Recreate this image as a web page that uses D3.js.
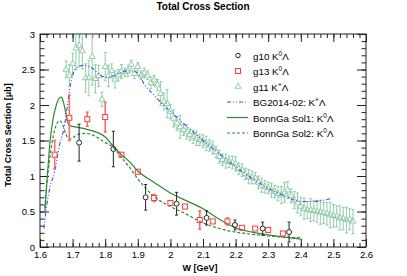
<!DOCTYPE html>
<html>
<head>
<meta charset="utf-8">
<script src="https://cdn.jsdelivr.net/npm/d3@7"></script>
<style>
body { margin: 0; background: #fff; }
svg { display: block; font-family: "Liberation Sans", Arial, sans-serif; }
</style>
</head>
<body>
<svg id="chart" width="407" height="276"></svg>
<script>
// g10 K0 Lambda (black circles)
var g10W = [1.72, 1.825, 1.924, 2.019, 2.111, 2.198, 2.283, 2.364];
var g10Val = [1.47, 1.38, 0.70, 0.61, 0.41, 0.31, 0.26, 0.21];
var g10Err = [0.26, 0.25, 0.18, 0.16, 0.10, 0.07, 0.09, 0.14];

// g13 K0 Lambda (red squares)
var g13W = [1.645, 1.69, 1.745, 1.80, 1.85, 1.90, 1.95, 2.00, 2.045, 2.09, 2.13, 2.175, 2.22, 2.26, 2.30, 2.345];
var g13Val = [1.30, 1.82, 1.80, 1.83, 1.30, 1.06, 0.69, 0.62, 0.57, 0.38, 0.36, 0.36, 0.27, 0.26, 0.24, 0.19];
var g13Err = [0.20, 0.32, 0.10, 0.21, 0.04, 0.04, 0.05, 0.03, 0.03, 0.13, 0.03, 0.05, 0.04, 0.04, 0.04, 0.03];

// g11 K+ Lambda (green triangles)
var g11W = [1.68, 1.69, 1.70, 1.71, 1.72, 1.73, 1.74, 1.75, 1.76, 1.77, 1.78, 1.79, 1.80, 1.81, 1.82, 1.83, 1.84, 1.85, 1.86, 1.87,
    1.88, 1.89, 1.90, 1.91, 1.92, 1.93, 1.94, 1.95, 1.96, 1.97, 1.98, 1.99, 2.00, 2.01, 2.02, 2.03, 2.04, 2.05, 2.06, 2.07,
    2.08, 2.09, 2.10, 2.11, 2.12, 2.13, 2.14, 2.15, 2.16, 2.17, 2.18, 2.19, 2.20, 2.21, 2.22, 2.23, 2.24, 2.25, 2.26, 2.27,
    2.28, 2.29, 2.30, 2.31, 2.32, 2.33, 2.34, 2.35, 2.36, 2.37, 2.38, 2.39, 2.40, 2.41, 2.42, 2.43, 2.44, 2.45, 2.46, 2.47,
    2.48, 2.49, 2.50, 2.51, 2.52, 2.53, 2.54, 2.55, 2.56];
var g11Val = [2.50, 2.42, 2.58, 2.80, 2.84, 2.76, 2.38, 2.38, 2.68, 2.37, 2.41, 2.08, 2.54, 2.41, 2.48, 2.36, 2.42, 2.47, 2.46, 2.48,
    2.57, 2.44, 2.54, 2.42, 2.45, 2.42, 2.31, 2.35, 2.28, 2.16, 2.05, 2.02, 1.91, 1.81, 1.74, 1.69, 1.65, 1.62, 1.58, 1.55,
    1.53, 1.51, 1.49, 1.46, 1.43, 1.40, 1.34, 1.27, 1.23, 1.21, 1.20, 1.19, 1.17, 1.10, 1.08, 1.03, 0.99, 0.98, 0.97, 0.91,
    0.87, 0.85, 0.83, 0.80, 0.78, 0.75, 0.73, 0.77, 0.80, 0.72, 0.66, 0.62, 0.57, 0.54, 0.52, 0.52, 0.51, 0.50, 0.49, 0.48,
    0.47, 0.45, 0.44, 0.43, 0.41, 0.40, 0.38, 0.39, 0.36];
var g11Err = [0.12, 0.15, 0.15, 0.30, 0.30, 0.25, 0.20, 0.25, 0.40, 0.20, 0.15, 0.10, 0.20, 0.15, 0.10, 0.12, 0.08, 0.10, 0.06, 0.08,
    0.06, 0.07, 0.06, 0.06, 0.07, 0.06, 0.08, 0.07, 0.08, 0.17, 0.12, 0.20, 0.10, 0.12, 0.10, 0.16, 0.08, 0.10, 0.08, 0.09,
    0.10, 0.08, 0.09, 0.10, 0.08, 0.09, 0.08, 0.09, 0.08, 0.10, 0.08, 0.09, 0.10, 0.08, 0.09, 0.08, 0.10, 0.09, 0.08, 0.09,
    0.10, 0.09, 0.08, 0.10, 0.09, 0.10, 0.12, 0.14, 0.12, 0.10, 0.12, 0.14, 0.13, 0.15, 0.12, 0.16, 0.14, 0.15, 0.17, 0.15,
    0.16, 0.18, 0.16, 0.15, 0.17, 0.16, 0.18, 0.15, 0.17];

// BG2014-02 K+ Lambda (blue dash-dot)
var bgW = [1.612, 1.618, 1.63, 1.645, 1.66, 1.67, 1.68, 1.69, 1.70, 1.715, 1.735, 1.76, 1.785, 1.805, 1.83, 1.865, 1.885, 1.90,
    1.92, 1.95, 1.98, 2.01, 2.04, 2.07, 2.10, 2.13, 2.16, 2.20, 2.23, 2.26, 2.29, 2.32, 2.35, 2.38, 2.41, 2.44, 2.46, 2.49];
var bgVal = [0.26, 0.50, 0.83, 1.06, 1.44, 1.60, 1.85, 2.20, 2.42, 2.53, 2.56, 2.52, 2.42, 2.39, 2.42, 2.48, 2.48, 2.45,
    2.29, 2.14, 1.99, 1.87, 1.74, 1.62, 1.50, 1.39, 1.28, 1.13, 1.03, 0.94, 0.85, 0.78, 0.72, 0.66, 0.64, 0.64, 0.65, 0.68];

// BonnGa Sol1 K0 Lambda (solid green)
var sol1W = [1.615, 1.62, 1.625, 1.63, 1.64, 1.65, 1.66, 1.665, 1.67, 1.675, 1.68, 1.685, 1.69, 1.70, 1.75, 1.80, 1.825, 1.85,
    1.875, 1.90, 1.95, 2.00, 2.05, 2.10, 2.15, 2.20, 2.25, 2.30, 2.35, 2.40];
var sol1Val = [0.50, 0.85, 1.15, 1.45, 1.80, 2.00, 2.10, 2.11, 2.07, 1.98, 1.86, 1.76, 1.71, 1.70, 1.65, 1.55, 1.42, 1.30,
    1.20, 1.07, 0.91, 0.76, 0.65, 0.54, 0.39, 0.27, 0.21, 0.17, 0.14, 0.11];

// BonnGa Sol2 K0 Lambda (dashed green)
var sol2W = [1.615, 1.62, 1.63, 1.64, 1.65, 1.66, 1.67, 1.68, 1.69, 1.70, 1.72, 1.74, 1.76, 1.78, 1.80, 1.825, 1.85, 1.875,
    1.90, 1.95, 2.00, 2.05, 2.10, 2.15, 2.20, 2.25, 2.30, 2.35, 2.40];
var sol2Val = [0.55, 0.85, 1.25, 1.55, 1.72, 1.78, 1.72, 1.58, 1.52, 1.54, 1.59, 1.60, 1.58, 1.53, 1.47, 1.40, 1.26, 1.12,
    0.96, 0.71, 0.57, 0.46, 0.34, 0.26, 0.21, 0.18, 0.155, 0.14, 0.13];

var xTicks = [1.6, 1.7, 1.8, 1.9, 2.0, 2.1, 2.2, 2.3, 2.4, 2.5, 2.6];
var xLabels = ["1.6", "1.7", "1.8", "1.9", "2", "2.1", "2.2", "2.3", "2.4", "2.5", "2.6"];
var yTicks = [0, 0.5, 1, 1.5, 2, 2.5, 3];
var yLabels = ["0", "0.5", "1", "1.5", "2", "2.5", "3"];

var svg = d3.select("#chart"),
    MARGINS = { top: 34, right: 41, bottom: 29, left: 40 },
    WIDTH = 407,
    HEIGHT = 276,
    x = d3.scaleLinear().domain([1.6, 2.6]).range([MARGINS.left, WIDTH - MARGINS.right]),
    y = d3.scaleLinear().domain([0, 3]).range([HEIGHT - MARGINS.bottom, MARGINS.top]);

var xMinor = d3.range(0, 51).map(function (i) { return 1.6 + i * 0.02; });
var yMinor = d3.range(0, 31).map(function (i) { return i * 0.1; });

svg.append("defs").append("clipPath").attr("id", "plot")
    .append("rect")
    .attr("x", x(1.6)).attr("y", y(3))
    .attr("width", x(2.6) - x(1.6)).attr("height", y(0) - y(3));

// title and axis titles
svg.append("text")
    .attr("x", 203).attr("y", 10)
    .attr("text-anchor", "middle")
    .attr("font-weight", "bold").attr("font-size", 10)
    .text("Total Cross Section");

svg.append("text")
    .attr("transform", "translate(11,135) rotate(-90)")
    .attr("text-anchor", "middle")
    .attr("font-weight", "bold").attr("font-size", 9)
    .text("Total Cross Section [\u03bcb]");

svg.append("text")
    .attr("x", 200).attr("y", 271)
    .attr("text-anchor", "middle")
    .attr("font-weight", "bold").attr("font-size", 9)
    .text("W [GeV]");

// axes, ticks pointing inward on all four sides
function styleAxis(g) {
    g.select(".domain").remove();
    g.selectAll("line").attr("stroke", "#222");
    g.selectAll("text").attr("font-size", 9.5).attr("fill", "#000")
        .attr("font-family", "'Liberation Sans', Arial, sans-serif");
}

svg.append("g")
    .attr("transform", "translate(0," + y(0) + ")")
    .call(d3.axisBottom(x).tickValues(xMinor).tickSize(-4).tickFormat(""))
    .call(styleAxis);
svg.append("g")
    .attr("transform", "translate(0," + y(0) + ")")
    .call(d3.axisBottom(x).tickValues(xTicks).tickSize(-8).tickPadding(4)
        .tickFormat(function (d, i) { return xLabels[i]; }))
    .call(styleAxis);
svg.append("g")
    .attr("transform", "translate(0," + y(3) + ")")
    .call(d3.axisTop(x).tickValues(xMinor).tickSize(-4).tickFormat(""))
    .call(styleAxis);
svg.append("g")
    .attr("transform", "translate(0," + y(3) + ")")
    .call(d3.axisTop(x).tickValues(xTicks).tickSize(-8).tickFormat(""))
    .call(styleAxis);

svg.append("g")
    .attr("transform", "translate(" + x(1.6) + ",0)")
    .call(d3.axisLeft(y).tickValues(yMinor).tickSize(-4.5).tickFormat(""))
    .call(styleAxis);
svg.append("g")
    .attr("transform", "translate(" + x(1.6) + ",0)")
    .call(d3.axisLeft(y).tickValues(yTicks).tickSize(-9).tickPadding(5)
        .tickFormat(function (d, i) { return yLabels[i]; }))
    .call(styleAxis);
svg.append("g")
    .attr("transform", "translate(" + x(2.6) + ",0)")
    .call(d3.axisRight(y).tickValues(yMinor).tickSize(-4.5).tickFormat(""))
    .call(styleAxis);
svg.append("g")
    .attr("transform", "translate(" + x(2.6) + ",0)")
    .call(d3.axisRight(y).tickValues(yTicks).tickSize(-9).tickFormat(""))
    .call(styleAxis);

svg.append("rect")
    .attr("x", x(1.6)).attr("y", y(3))
    .attr("width", x(2.6) - x(1.6)).attr("height", y(0) - y(3))
    .attr("fill", "none").attr("stroke", "#222").attr("stroke-width", 1);

var plot = svg.append("g").attr("clip-path", "url(#plot)");

function zip(ws, vs, es) {
    return ws.map(function (w, i) {
        return { w: w, v: vs[i], e: es ? es[i] : 0 };
    });
}

var lineGen = d3.line()
    .x(function (d) { return x(d.w); })
    .y(function (d) { return y(d.v); })
    .curve(d3.curveMonotoneX);

// error bars, split around the marker
function errorBars(data, color, width, gap) {
    var g = plot.append("g").attr("stroke", color).attr("stroke-width", width);
    data.forEach(function (d) {
        var cx = x(d.w), top = y(d.v + d.e), bot = y(d.v - d.e), cy = y(d.v);
        if (cy - gap > top) {
            g.append("line").attr("x1", cx).attr("x2", cx).attr("y1", top).attr("y2", cy - gap);
            g.append("line").attr("x1", cx - 1.5).attr("x2", cx + 1.5).attr("y1", top).attr("y2", top);
        }
        if (cy + gap < bot) {
            g.append("line").attr("x1", cx).attr("x2", cx).attr("y1", cy + gap).attr("y2", bot);
            g.append("line").attr("x1", cx - 1.5).attr("x2", cx + 1.5).attr("y1", bot).attr("y2", bot);
        }
    });
}

var g11Data = zip(g11W, g11Val, g11Err),
    g13Data = zip(g13W, g13Val, g13Err),
    g10Data = zip(g10W, g10Val, g10Err);

var green = "#8fcca6", red = "#ff3b3b", blue = "#3b4cf0", dark = "#2e8b35";

// g11 triangles
errorBars(g11Data, green, 1, 2.5);
plot.append("g").selectAll("path")
    .data(g11Data).enter().append("path")
    .attr("transform", function (d) { return "translate(" + x(d.w) + "," + y(d.v) + ")"; })
    .attr("d", d3.symbol(d3.symbolTriangle).size(16))
    .attr("fill", "none").attr("stroke", green).attr("stroke-width", 1);

// model curves
plot.append("path")
    .attr("d", lineGen(zip(bgW, bgVal)))
    .attr("fill", "none").attr("stroke", blue).attr("stroke-width", 1.1)
    .attr("stroke-dasharray", "4,2,1,2,1,2");
plot.append("path")
    .attr("d", lineGen(zip(sol1W, sol1Val)))
    .attr("fill", "none").attr("stroke", dark).attr("stroke-width", 1.2);
plot.append("path")
    .attr("d", lineGen(zip(sol2W, sol2Val)))
    .attr("fill", "none").attr("stroke", dark).attr("stroke-width", 1.2)
    .attr("stroke-dasharray", "3,2");

// g13 squares
errorBars(g13Data, "#ff6b6b", 1.6, 3);
plot.append("g").selectAll("rect")
    .data(g13Data).enter().append("rect")
    .attr("x", function (d) { return x(d.w) - 2.5; })
    .attr("y", function (d) { return y(d.v) - 2.5; })
    .attr("width", 5).attr("height", 5)
    .attr("fill", "none").attr("stroke", red).attr("stroke-width", 1);

// g10 circles
errorBars(g10Data, "#222", 1, 2.8);
plot.append("g").selectAll("circle")
    .data(g10Data).enter().append("circle")
    .attr("cx", function (d) { return x(d.w); })
    .attr("cy", function (d) { return y(d.v); })
    .attr("r", 2.5)
    .attr("fill", "none").attr("stroke", "#222").attr("stroke-width", 1);

// legend
var legend = svg.append("g");
var rows = [
    { label: "g10 K", sup: "0", kind: "circle" },
    { label: "g13 K", sup: "0", kind: "square" },
    { label: "g11 K", sup: "+", kind: "triangle" },
    { label: "BG2014-02: K", sup: "+", kind: "bg" },
    { label: "BonnGa Sol1: K", sup: "0", kind: "sol1" },
    { label: "BonnGa Sol2: K", sup: "0", kind: "sol2" }
];
rows.forEach(function (r, i) {
    var ly = 55.5 + i * 15.5, mx = 238;
    if (r.kind === "circle") {
        legend.append("circle").attr("cx", mx).attr("cy", ly).attr("r", 2.2)
            .attr("fill", "none").attr("stroke", "#222");
    } else if (r.kind === "square") {
        legend.append("rect").attr("x", mx - 2.5).attr("y", ly - 2.5).attr("width", 5).attr("height", 5)
            .attr("fill", "none").attr("stroke", red);
    } else if (r.kind === "triangle") {
        legend.append("path").attr("transform", "translate(" + mx + "," + ly + ")")
            .attr("d", d3.symbol(d3.symbolTriangle).size(16))
            .attr("fill", "none").attr("stroke", green);
    } else {
        var ln = legend.append("line").attr("x1", 227).attr("x2", 248).attr("y1", ly).attr("y2", ly)
            .attr("stroke-width", 1.2);
        if (r.kind === "bg") ln.attr("stroke", blue).attr("stroke-dasharray", "4,2,1,2,1,2");
        if (r.kind === "sol1") ln.attr("stroke", dark);
        if (r.kind === "sol2") ln.attr("stroke", dark).attr("stroke-dasharray", "3,2");
    }
    var t = legend.append("text").attr("x", 253).attr("y", ly + 4).attr("font-size", 9.8);
    t.append("tspan").text(r.label);
    t.append("tspan").attr("dy", -4).attr("font-size", 6.5).text(r.sup);
    t.append("tspan").attr("dy", 4).text("\u039b");
});
</script>
</body>
</html>
